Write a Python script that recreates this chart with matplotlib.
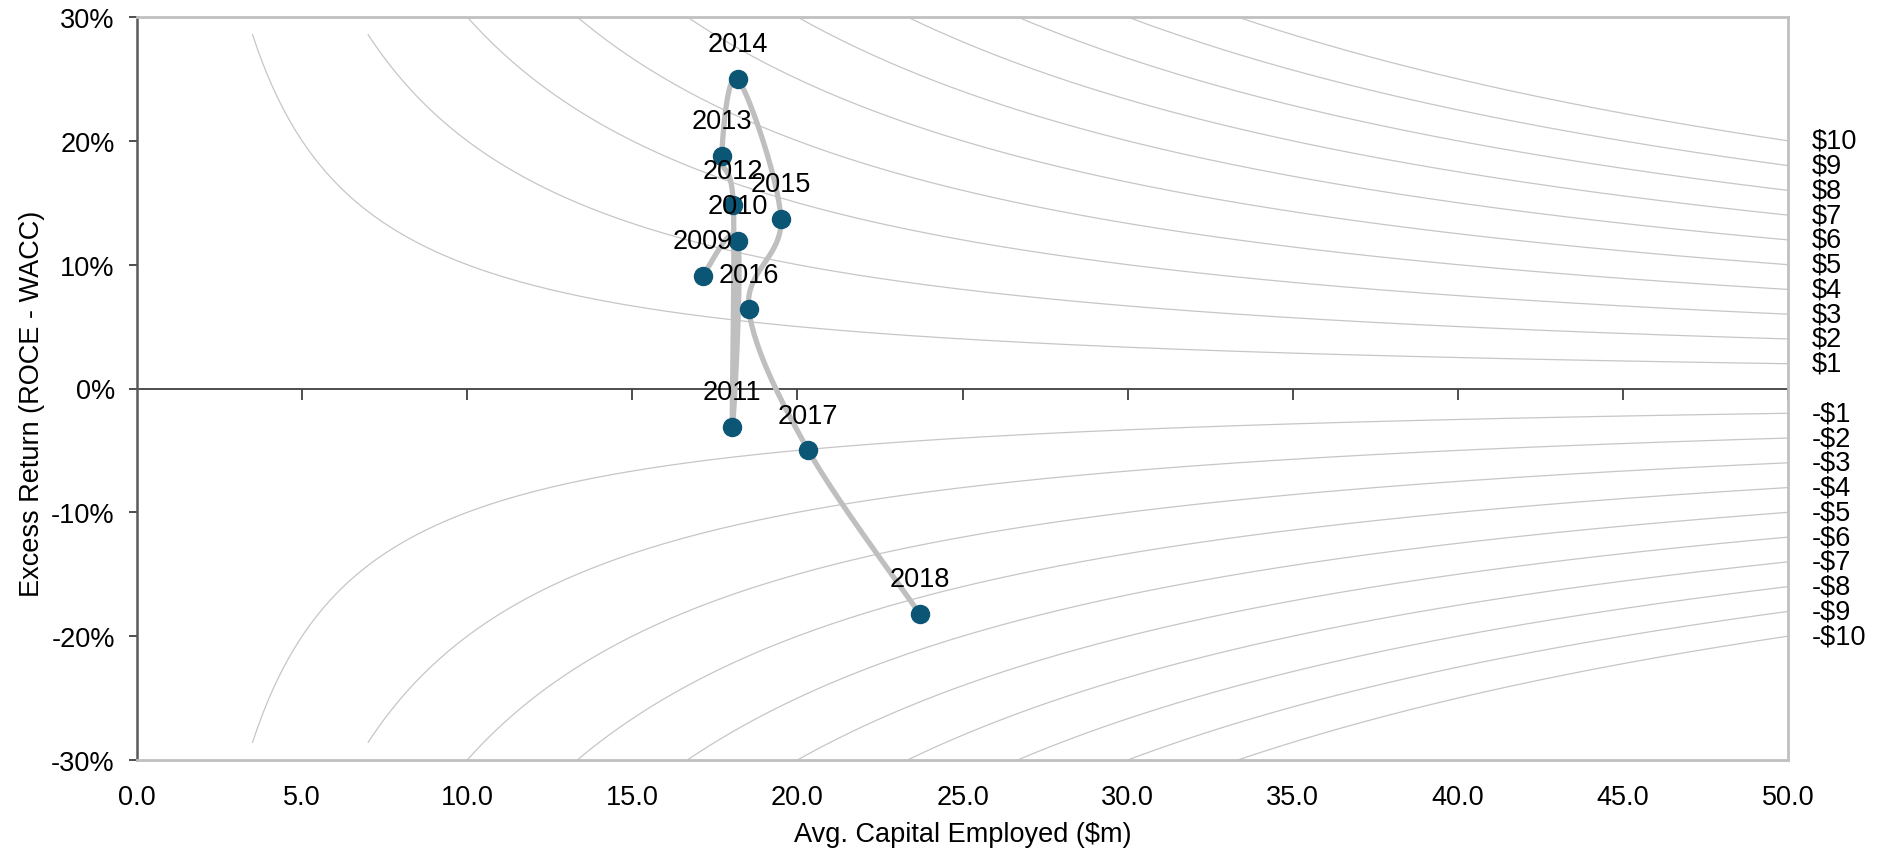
import numpy as np
import matplotlib
matplotlib.use('Agg')
import matplotlib.pyplot as plt
from matplotlib import rcParams
import matplotlib.transforms as mtransforms

rcParams['font.family'] = ['Liberation Sans', 'DejaVu Sans']
FS = 19.5
rcParams['font.size'] = FS

# Данные: капитал ($m) и избыточная доходность (%)
years = [2009, 2010, 2011, 2012, 2013, 2014, 2015, 2016, 2017, 2018]
capital = [17.13, 18.19, 18.03, 18.06, 17.71, 18.19, 19.50, 18.53, 20.33, 23.71]
excess = [9.1, 11.9, -3.1, 14.8, 18.8, 25.0, 13.7, 6.4, -5.0, -18.2]

# Линии равной экономической прибыли ($m)
ep_levels = [1, 2, 3, 4, 5, 6, 7, 8, 9, 10]
ep_labels_pos = ['$1', '$2', '$3', '$4', '$5', '$6', '$7', '$8', '$9', '$10']
ep_labels_neg = ['-$1', '-$2', '-$3', '-$4', '-$5', '-$6', '-$7', '-$8', '-$9', '-$10']

x_ticks = [0, 5, 10, 15, 20, 25, 30, 35, 40, 45, 50]
y_ticks = [-30, -20, -10, 0, 10, 20, 30]

XMIN, XMAX, YMIN, YMAX = 0, 50, -30, 30


def catmull_rom(px, py, n=40):
    # сглаживание как в Excel, считаем в нормированных координатах
    sx = (XMAX - XMIN)
    sy = (YMAX - YMIN) * 1651 / 743
    p = np.column_stack([np.array(px) / sx, np.array(py) / sy])
    p = np.vstack([p[0], p, p[-1]])
    out = []
    t = np.linspace(0, 1, n)[:, None]
    for i in range(1, len(p) - 2):
        p0, p1, p2, p3 = p[i - 1], p[i], p[i + 1], p[i + 2]
        seg = 0.5 * ((2 * p1) + (-p0 + p2) * t + (2 * p0 - 5 * p1 + 4 * p2 - p3) * t ** 2
                     + (-p0 + 3 * p1 - 3 * p2 + p3) * t ** 3)
        out.append(seg)
    out = np.vstack(out)
    return out[:, 0] * sx, out[:, 1] * sy


fig = plt.figure(figsize=(18.87, 8.54), dpi=100)
ax = fig.add_axes([137 / 1887, 1 - 761 / 854, 1651 / 1887, 743 / 854])

curve_color = '#C6C6C6'
for v in ep_levels:
    x0 = 3.5 * v if v <= 2 else v / 0.3
    xs = np.linspace(x0, XMAX, 300)
    ax.plot(xs, 100 * v / xs, color=curve_color, lw=0.9, zorder=1)
    ax.plot(xs, -100 * v / xs, color=curve_color, lw=0.9, zorder=1)

# подписи уровней справа
trans = mtransforms.blended_transform_factory(ax.transAxes, ax.transData)
for v, lp, ln in zip(ep_levels, ep_labels_pos, ep_labels_neg):
    ax.text(1.0145, 100 * v / XMAX, lp, transform=trans, ha='left', va='center', fontsize=FS)
    ax.text(1.0145, -100 * v / XMAX, ln, transform=trans, ha='left', va='center', fontsize=FS)

# ось через ноль с рисками вниз
ax.axhline(0, color='#404040', lw=1.3, zorder=2)
ax.plot(x_ticks[1:], [0] * (len(x_ticks) - 1), linestyle='none', marker=3,
        markersize=8, markeredgewidth=1.3, color='#404040', zorder=2)

sx, sy = catmull_rom(capital, excess)
ax.plot(sx, sy, color='#BFBFBF', lw=3.8, solid_capstyle='round', zorder=3)
ax.plot(capital, excess, linestyle='none', marker='o', markersize=13,
        color='#0B5575', zorder=4)

for yr, cx, cy in zip(years, capital, excess):
    ax.annotate(str(yr), (cx, cy), xytext=(0, 25), textcoords='offset points',
                ha='center', va='center', fontsize=FS, zorder=5)

ax.set_xlim(XMIN, XMAX)
ax.set_ylim(YMIN, YMAX)
ax.set_xticks(x_ticks)
ax.set_xticklabels([f'{t:.1f}' for t in x_ticks])
ax.set_yticks(y_ticks)
ax.set_yticklabels([f'{t}%' for t in y_ticks])
ax.tick_params(axis='x', length=0, pad=17, labelsize=FS)
ax.tick_params(axis='y', length=6, width=1.3, color='#404040', pad=10, labelsize=FS)

for side in ['top', 'right', 'bottom']:
    ax.spines[side].set_color('#C0C0C0')
    ax.spines[side].set_linewidth(2)
ax.spines['left'].set_color('#595959')
ax.spines['left'].set_linewidth(1.8)

ax.set_xlabel('Avg. Capital Employed ($m)', fontsize=FS, va='center')
ax.xaxis.set_label_coords(0.5, -0.0996)
ax.set_ylabel('Excess Return (ROCE - WACC)', fontsize=FS, va='center', ha='center')
ax.yaxis.set_label_coords(-0.0636, 0.48)

fig.savefig('out.png', dpi=100)
plt.close(fig)
